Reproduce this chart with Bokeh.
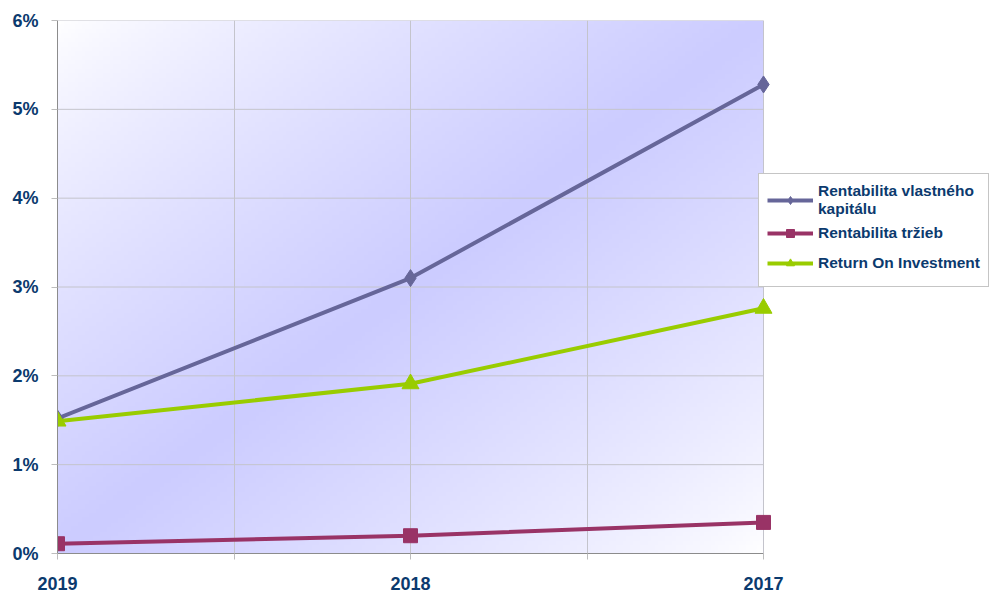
import numpy as np
from bokeh.plotting import figure
from bokeh.models import (Range1d, FixedTicker, PrintfTickFormatter, Legend, LegendItem)
from bokeh.embed import file_html
from bokeh.resources import INLINE

years = ["2019", "2018", "2017"]
rvk = [1.52, 3.10, 5.28]      # Rentabilita vlastného kapitálu (%)
rt = [0.11, 0.20, 0.35]       # Rentabilita tržieb (%)
roi = [1.49, 1.91, 2.76]      # Return On Investment (%)
y_ticks = [0, 1, 2, 3, 4, 5, 6]

NAVY = "#0B3A6E"
FONT = "Liberation Sans"
GRID = "#C4C4CC"

xs = list(range(len(years)))
x_last = len(years) - 1
# plot region spans 706 px of a 941 px frame; the rest holds the legend
x_end = x_last * 941 / 706

p = figure(width=1000, height=595, output_backend="svg", toolbar_location=None,
           x_range=Range1d(0, x_end), y_range=Range1d(0, 6),
           min_border_left=57, min_border_top=20, min_border_bottom=42,
           min_border_right=2)
p.outline_line_color = None
p.background_fill_color = "white"

# diagonal gradient background
ny, nx = 120, 200
u = np.linspace(0, 1, nx)[None, :]
v_top = 1 - np.linspace(0, 1, ny)[:, None]
t = 1 - np.abs(u + v_top - 1)
t = np.clip(t, 0, 1) ** 0.8
r = (255 * (1 - t) + 204 * t).astype(np.uint32)
g = (255 * (1 - t) + 204 * t).astype(np.uint32)
b = np.full_like(r, 255)
img = (255 << 24) | (b << 16) | (g << 8) | r
bg = p.image_rgba(image=[img.astype(np.uint32)], x=0, y=0, dw=x_last, dh=6)
bg.level = "image"

# grid
p.xgrid.ticker = FixedTicker(ticks=[0.5, 1, 1.5, 2])
p.xgrid.grid_line_color = GRID
p.xgrid.level = "underlay"
p.ygrid.grid_line_color = None
hg = p.segment(x0=[0] * len(y_ticks), x1=[x_last] * len(y_ticks), y0=y_ticks, y1=y_ticks,
               line_color=GRID, line_width=1)
hg.level = "underlay"

# axes
p.yaxis.ticker = FixedTicker(ticks=y_ticks)
p.yaxis.formatter = PrintfTickFormatter(format="%d%%")
p.xaxis.ticker = FixedTicker(ticks=[0, 0.5, 1, 1.5, 2])
p.xaxis.bounds = (0, x_last)
p.xaxis.major_label_overrides = {0: years[0], 0.5: "", 1: years[1], 1.5: "", 2: years[2]}
for ax in (p.xaxis, p.yaxis):
    ax.axis_line_color = "#8C8C8C"
    ax.major_tick_line_color = "#BDBDBD"
    ax.major_tick_in = 0
    ax.major_tick_out = 6
    ax.minor_tick_line_color = None
    ax.major_label_text_font = FONT
    ax.major_label_text_font_style = "bold"
    ax.major_label_text_font_size = "18px"
    ax.major_label_text_color = NAVY
p.yaxis.major_label_standoff = 13
p.xaxis.major_label_standoff = 17

l1 = p.line(xs, rvk, line_color="#666699", line_width=4)
m1 = p.scatter(xs, rvk, marker="diamond", size=17, fill_color="#666699", line_color="#666699")
l2 = p.line(xs, rt, line_color="#993366", line_width=4)
m2 = p.scatter(xs, rt, marker="square", size=14, fill_color="#993366", line_color="#993366")
l3 = p.line(xs, roi, line_color="#99CC00", line_width=4)
m3 = p.scatter(xs, roi, marker="triangle", size=17, fill_color="#99CC00", line_color="#99CC00")

legend = Legend(items=[
    LegendItem(label="Rentabilita vlastného\nkapitálu", renderers=[l1, m1]),
    LegendItem(label="Rentabilita tržieb", renderers=[l2, m2]),
    LegendItem(label="Return On Investment", renderers=[l3, m3]),
], location=(701, 266))
legend.label_text_font = FONT
legend.label_text_font_style = "bold"
legend.label_text_font_size = "15.5px"
legend.label_text_color = NAVY
legend.glyph_width = 46
legend.glyph_height = 20
legend.label_height = 30
legend.label_standoff = 5
legend.spacing = 0
legend.padding = 8
legend.margin = 0
legend.border_line_color = "#8C8C8C"
legend.border_line_width = 1
legend.background_fill_color = "white"
legend.background_fill_alpha = 1
p.add_layout(legend, "center")

open("out.html", "w").write(file_html(p, INLINE))
